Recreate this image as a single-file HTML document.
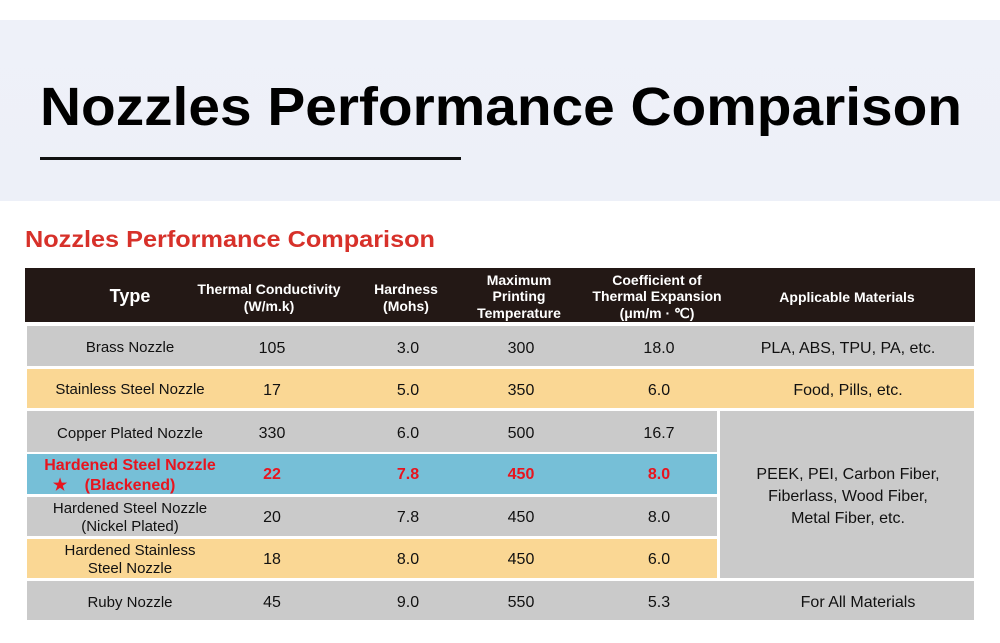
<!DOCTYPE html>
<html><head><meta charset="utf-8"><style>
html,body{margin:0;padding:0;background:#fff;}
svg{display:block;font-family:"Liberation Sans",sans-serif;}
</style></head><body>
<svg width="1000" height="643" viewBox="0 0 1000 643" xmlns="http://www.w3.org/2000/svg">
<defs><linearGradient id="g" x1="0" y1="0" x2="0" y2="1"><stop offset="0" stop-color="#eef1f9"/><stop offset="1" stop-color="#edf0f8"/></linearGradient></defs>
<rect x="0" y="20" width="1000" height="181" fill="url(#g)"/>
<text x="40" y="125" font-size="54" font-weight="bold" fill="#000" textLength="922" lengthAdjust="spacingAndGlyphs">Nozzles Performance Comparison</text>
<rect x="40" y="157" width="421" height="3" fill="#111"/>
<text x="25" y="247" font-size="23" font-weight="bold" fill="#d7312a" textLength="410" lengthAdjust="spacingAndGlyphs">Nozzles Performance Comparison</text>
<rect x="25" y="268" width="950" height="54" fill="#231815"/>
<g fill="#fff" font-weight="bold" text-anchor="middle" font-size="14">
<text x="130" y="302" font-size="18">Type</text>
<text x="269" y="294">Thermal Conductivity</text><text x="269" y="311">(W/m.k)</text>
<text x="406" y="294">Hardness</text><text x="406" y="311">(Mohs)</text>
<text x="519" y="285">Maximum</text><text x="519" y="301">Printing</text><text x="519" y="318">Temperature</text>
<text x="657" y="285">Coefficient of</text><text x="657" y="301">Thermal Expansion</text><text x="657" y="318">(μm/m · ℃)</text>
<text x="847" y="302">Applicable Materials</text>
</g>
<rect x="27" y="326" width="947" height="40" fill="#cacaca"/>
<rect x="27" y="369" width="947" height="39" fill="#fad794"/>
<rect x="27" y="411" width="690" height="41" fill="#cacaca"/>
<rect x="27" y="454" width="690" height="40" fill="#76bfd7"/>
<rect x="27" y="497" width="690" height="39" fill="#cacaca"/>
<rect x="27" y="539" width="690" height="39" fill="#fad794"/>
<rect x="720" y="411" width="254" height="167" fill="#cacaca"/>
<rect x="27" y="581" width="947" height="39" fill="#cacaca"/>
<g font-size="16" text-anchor="middle" fill="#111">
<text x="130" y="352" font-size="15">Brass Nozzle</text><text x="272" y="353">105</text><text x="408" y="353">3.0</text><text x="521" y="353">300</text><text x="659" y="353">18.0</text><text x="848" y="353">PLA, ABS, TPU, PA, etc.</text>
<text x="130" y="394" font-size="15">Stainless Steel Nozzle</text><text x="272" y="395">17</text><text x="408" y="395">5.0</text><text x="521" y="395">350</text><text x="659" y="395">6.0</text><text x="848" y="395">Food, Pills, etc.</text>
<text x="130" y="438" font-size="15">Copper Plated Nozzle</text><text x="272" y="438">330</text><text x="408" y="438">6.0</text><text x="521" y="438">500</text><text x="659" y="438">16.7</text>
<text x="848" y="479">PEEK, PEI, Carbon Fiber,</text><text x="848" y="501">Fiberlass, Wood Fiber,</text><text x="848" y="523">Metal Fiber, etc.</text>
<text x="130" y="513" font-size="15">Hardened Steel Nozzle</text><text x="130" y="531" font-size="15">(Nickel Plated)</text><text x="272" y="522">20</text><text x="408" y="522">7.8</text><text x="521" y="522">450</text><text x="659" y="522">8.0</text>
<text x="130" y="555" font-size="15">Hardened Stainless</text><text x="130" y="573" font-size="15">Steel Nozzle</text><text x="272" y="564">18</text><text x="408" y="564">8.0</text><text x="521" y="564">450</text><text x="659" y="564">6.0</text>
<text x="130" y="607" font-size="15">Ruby Nozzle</text><text x="272" y="607">45</text><text x="408" y="607">9.0</text><text x="521" y="607">550</text><text x="659" y="607">5.3</text><text x="858" y="607">For All Materials</text>
</g>
<g font-size="16" text-anchor="middle" fill="#e8141e" font-weight="bold">
<text x="130" y="470">Hardened Steel Nozzle</text><text x="60" y="490">★</text><text x="130" y="490">(Blackened)</text>
<text x="272" y="479">22</text><text x="408" y="479">7.8</text><text x="521" y="479">450</text><text x="659" y="479">8.0</text>
</g>
</svg>
</body></html>
